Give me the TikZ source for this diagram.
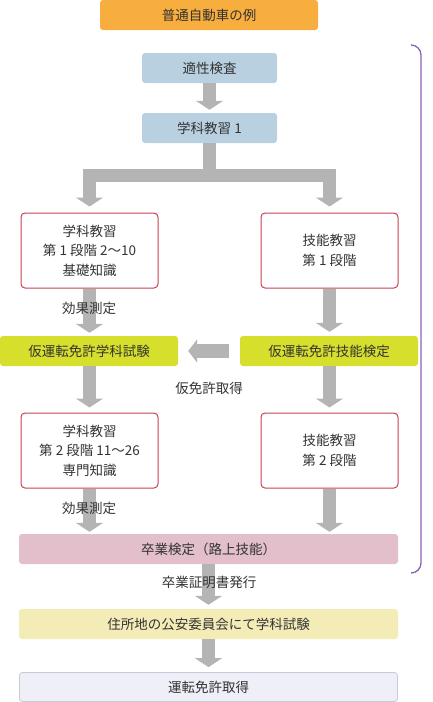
\documentclass[tikz,border=0pt]{standalone}
\usepackage{fontspec}
\setmainfont{Noto Sans CJK JP}
\usetikzlibrary{arrows.meta}
\definecolor{txt}{HTML}{333333}
\definecolor{orangebox}{HTML}{F8AD3F}
\definecolor{bluebox}{HTML}{B9D0E1}
\definecolor{redline}{HTML}{C8404F}
\definecolor{limebox}{HTML}{D6DF2B}
\definecolor{pinkbox}{HTML}{E3BFCC}
\definecolor{creambox}{HTML}{F3ECB7}
\definecolor{lavbox}{HTML}{EFEFF7}
\definecolor{lavline}{HTML}{C9C9DD}
\definecolor{arrowgray}{HTML}{B4B4B4}
\definecolor{bracecol}{HTML}{8B62B5}
\tikzset{
  jp/.style={font=\fontsize{13.5pt}{19.5pt}\selectfont, text=txt},
  box/.style={jp, rectangle, rounded corners=3pt, minimum height=30pt, inner sep=0pt, align=center},
  wbox/.style={box, draw=redline, line width=1pt, fill=white, minimum width=137pt, minimum height=75pt, rounded corners=4pt},
  lbl/.style={jp, inner sep=0pt},
  garrow/.style={draw=arrowgray, line width=13pt, -{Triangle[width=27pt,length=9pt]}},
  harrow/.style={draw=arrowgray, line width=14pt, -{Triangle[width=23pt,length=9pt]}},
}
\begin{document}
\begin{tikzpicture}[x=1pt,y=-1pt]
\useasboundingbox (0,0) rectangle (433,702);
% boxes
\node[box, fill=orangebox, minimum width=218pt] (title) at (209,15) {普通自動車の例};
\node[box, fill=bluebox, minimum width=135pt] (tekisei) at (209.5,68) {適性検査};
\node[box, fill=bluebox, minimum width=135pt] (gakka1) at (209.5,128) {学科教習 1};
\node[wbox] (L1) at (89.5,250.5) {学科教習\\第 1 段階 2〜10\\基礎知識};
\node[wbox] (R1) at (329.5,250.5) {技能教習\\第 1 段階};
\node[box, fill=limebox, minimum width=178pt] (LY) at (89,351) {仮運転免許学科試験};
\node[box, fill=limebox, minimum width=178pt] (RY) at (329,351) {仮運転免許技能検定};
\node[wbox] (L2) at (89.5,450.5) {学科教習\\第 2 段階 11〜26\\専門知識};
\node[wbox] (R2) at (329.5,450.5) {技能教習\\第 2 段階};
\node[box, fill=pinkbox, minimum width=379pt] (grad) at (208.5,549) {卒業検定（路上技能）};
\node[box, fill=creambox, minimum width=379pt] (koan) at (208.5,624) {住所地の公安委員会にて学科試験};
\node[box, fill=lavbox, draw=lavline, line width=0.8pt, minimum width=378pt, minimum height=29pt] (final) at (208.5,687) {運転免許取得};
% arrows
\draw[garrow] (tekisei.south) -- ([yshift=3pt]gakka1.north);
\draw[garrow] (gakka1.south) -- ++(0,32) -| ([yshift=6pt]L1.north);
\draw[garrow] (gakka1.south) -- ++(0,32) -| ([yshift=6pt]R1.north);
\draw[garrow] (L1.south) -- ([yshift=3pt]LY.north -| L1.south);
\draw[garrow] (R1.south) -- ([yshift=4pt]RY.north -| R1.south);
\draw[harrow] ([xshift=-11pt]RY.west) -- ([xshift=10pt]LY.east);
\draw[garrow] (LY.south -| L1.south) -- ([yshift=5pt]L2.north);
\draw[garrow] (RY.south -| R1.south) -- ([yshift=5pt]R2.north);
\draw[garrow] (L2.south) -- ([yshift=2pt]grad.north -| L2.south);
\draw[garrow] (R2.south) -- ([yshift=2pt]grad.north -| R2.south);
\draw[garrow] (grad.south) -- ([yshift=4pt]koan.north);
\draw[garrow] (koan.south) -- ([yshift=5pt]final.north);
% labels
\node[lbl] (m1) at (89,308) {効果測定};
\node[lbl] (kari) at (209,388) {仮免許取得};
\node[lbl] (m2) at (89,508) {効果測定};
\node[lbl] (sotsu) at (209,582) {卒業証明書発行};
% brace
\draw[bracecol, line width=1.3pt] (411,45) to[out=0,in=90] (421,55) -- (421,563) to[out=-90,in=0] (411,573);
\end{tikzpicture}
\end{document}
